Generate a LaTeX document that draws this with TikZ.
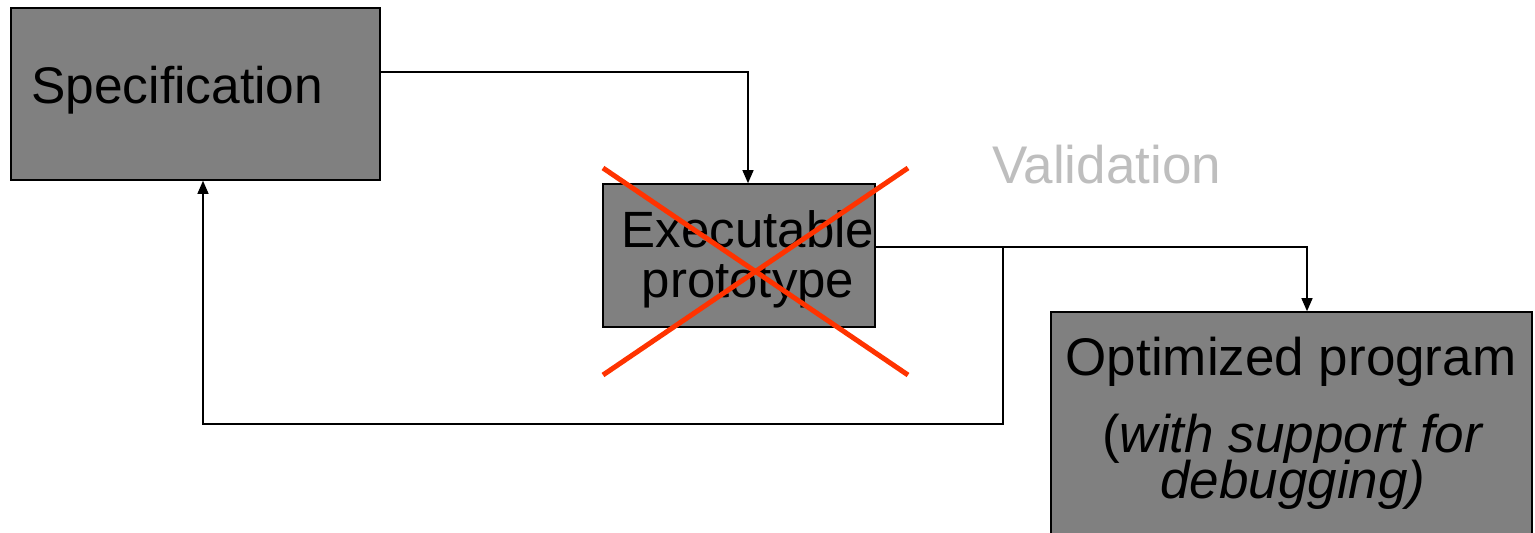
\documentclass[tikz,border=0pt]{standalone}
\usepackage{fontspec}
\setmainfont{Liberation Sans}
\usetikzlibrary{arrows.meta}
\definecolor{boxgray}{RGB}{128,128,128}
\definecolor{crossred}{RGB}{255,51,0}
\definecolor{labelgray}{RGB}{190,190,190}
% let lines sit closer than their glyphs would normally allow
\newcommand\tightlines{\setlength{\lineskiplimit}{-30pt}\setlength{\lineskip}{0pt}}
\begin{document}
\begin{tikzpicture}[x=1pt,y=-1pt,
  stagebox/.style={draw=black,line width=1.6pt,fill=boxgray,rectangle,inner sep=0pt},
  boxtext/.style={anchor=base,inner sep=0pt,align=center},
  flow/.style={draw=black,line width=1.3pt,-{Triangle[length=13pt,width=11pt]}},
  crossline/.style={draw=crossred,line width=5pt}]
\useasboundingbox (0,0) rectangle (1535,533);

% stages
\node[stagebox,minimum width=369pt,minimum height=172pt] (spec) at (195.5,94) {};
\node[stagebox,minimum width=272pt,minimum height=143pt] (exec) at (739,255.5) {};
\node[stagebox,minimum width=481pt,minimum height=260pt] (opt) at (1291.5,442) {};

% stage labels (a multi-line node sits on the baseline of its last line)
\node[boxtext,anchor=base west,font=\fontsize{51.5}{51.5}\selectfont] (spectxt) at (31,103) {Specification};
\node[boxtext,font={\fontsize{51}{50}\selectfont\tightlines}] (exectxt) at (748,297) {Executable\\prototype};
\node[boxtext,font=\fontsize{53}{53}\selectfont] (opttxt) at (1291,375) {Optimized program};
\node[boxtext,font={\fontsize{53}{46}\selectfont\tightlines}] (optnote) at (1293,498) {(\textit{with support for}\\\textit{debugging)}};
\node[anchor=base west,inner sep=0pt,text=labelgray,font=\fontsize{53}{53}\selectfont] (valid) at (992,183) {Validation};

% connectors
\coordinate (split) at (1003,247);
\draw[flow] (spec.east |- 0,72) -| (exec.north -| 748,0);
\draw[flow] (exec.east |- split) -| (opt.north -| 1307,0);
\draw[flow] (split) |- (203,424) -- (spec.south -| 203,0);

% prototype crossed out
\draw[crossline] (603,168) -- (908,375);
\draw[crossline] (908,168) -- (603,375);
\end{tikzpicture}
\end{document}
